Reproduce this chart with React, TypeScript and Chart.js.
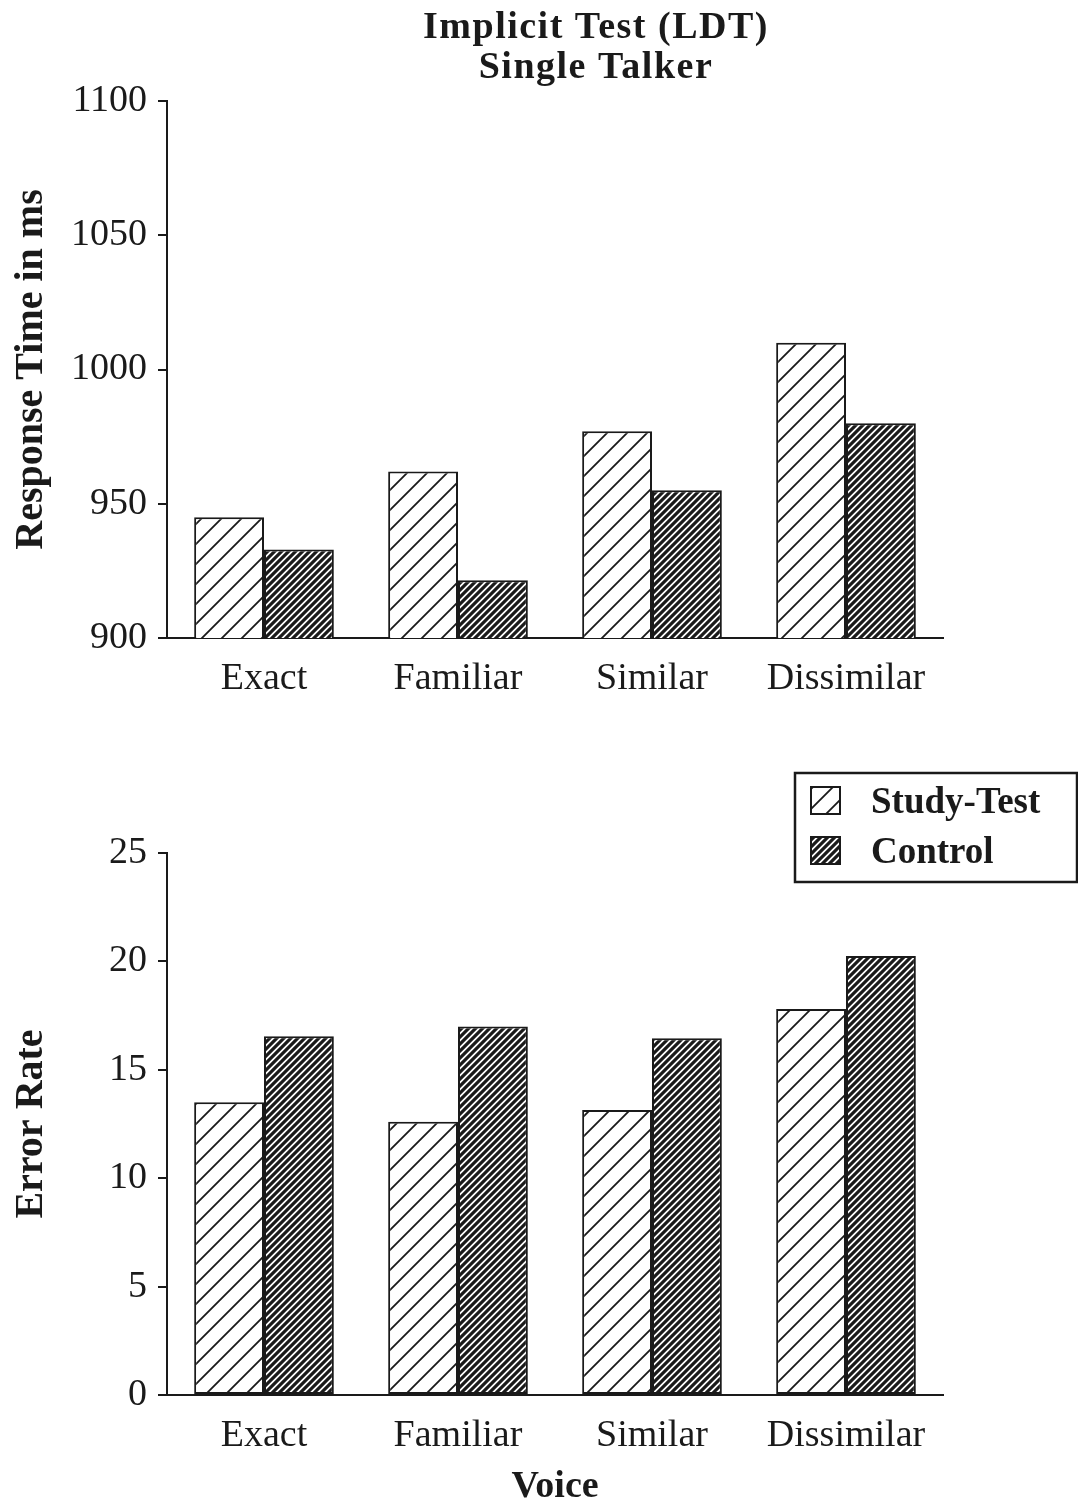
import React, { useEffect, useRef } from 'react';
import { Chart, registerables } from 'chart.js';

Chart.register(...registerables);

// ---- data ----
const categories = ['Exact', 'Familiar', 'Similar', 'Dissimilar'];
const seriesLabels = ['Study-Test', 'Control'];
const rtStudyTest = [945, 962, 977, 1010];
const rtControl = [933, 921.5, 955, 980];
const errStudyTest = [13.5, 12.6, 13.15, 17.8];
const errControl = [16.55, 17.0, 16.45, 20.25];
const rtMin = 900;
const rtMax = 1100;
const rtStep = 50;
const errMin = 0;
const errMax = 25;
const errStep = 5;
const titleLines = ['Implicit Test (LDT)', 'Single Talker'];
const rtAxisTitle = 'Response Time in ms';
const errAxisTitle = 'Error Rate';
const xAxisTitle = 'Voice';

const FONT = '"Liberation Serif", "Times New Roman", Times, serif';
const INK = '#1a1a1a';

function makePattern(size: number, lw: number): CanvasPattern {
  const c = document.createElement('canvas');
  c.width = size;
  c.height = size;
  const g = c.getContext('2d')!;
  g.fillStyle = '#ffffff';
  g.fillRect(0, 0, size, size);
  g.strokeStyle = INK;
  g.lineWidth = lw;
  g.beginPath();
  g.moveTo(-1, size + 1);
  g.lineTo(size + 1, -1);
  g.moveTo(-size / 2 - 1, size / 2 + 1);
  g.lineTo(size / 2 + 1, -size / 2 - 1);
  g.moveTo(size / 2 - 1, size * 1.5 + 1);
  g.lineTo(size * 1.5 + 1, size / 2 - 1);
  g.stroke();
  return g.createPattern(c, 'repeat')!;
}

const titlePlugin = {
  id: 'panelTitle',
  afterDraw(chart: any) {
    const ctx = chart.ctx as CanvasRenderingContext2D;
    ctx.save();
    ctx.fillStyle = INK;
    ctx.font = `bold 38px ${FONT}`;
    ctx.textAlign = 'center';
    ctx.textBaseline = 'alphabetic';
    try { (ctx as any).letterSpacing = '1.5px'; } catch (e) {}
    ctx.fillText(titleLines[0], 596, 38);
    ctx.fillText(titleLines[1], 596, 78);
    ctx.restore();
  },
};

const boxLegendPlugin = {
  id: 'boxLegend',
  afterDraw(chart: any) {
    const ctx = chart.ctx as CanvasRenderingContext2D;
    ctx.save();
    const x0 = 795;
    const y0 = 53;
    const w = 282;
    const h = 109;
    ctx.fillStyle = '#ffffff';
    ctx.fillRect(x0, y0, w, h);
    ctx.strokeStyle = INK;
    ctx.lineWidth = 2.5;
    ctx.strokeRect(x0, y0, w, h);
    chart.data.datasets.forEach((ds: any, i: number) => {
      const iy = y0 + 14 + i * 50;
      ctx.fillStyle = ds.backgroundColor;
      ctx.fillRect(811, iy, 29, 27);
      ctx.lineWidth = 2;
      ctx.strokeStyle = INK;
      ctx.strokeRect(811, iy, 29, 27);
      ctx.fillStyle = INK;
      ctx.font = `bold 37px ${FONT}`;
      ctx.textAlign = 'left';
      ctx.textBaseline = 'alphabetic';
      ctx.fillText(ds.label, 871, iy + 26);
    });
    ctx.restore();
  },
};

function buildConfig(
  studyVals: number[],
  controlVals: number[],
  sparse: CanvasPattern,
  dense: CanvasPattern,
  yMin: number,
  yMax: number,
  yStep: number,
  yTitle: string,
  xTitle: string | null,
  padTop: number,
  xHeight: number,
  plugins: any[]
): any {
  return {
    type: 'bar',
    data: {
      labels: categories,
      datasets: [
        {
          label: seriesLabels[0],
          data: studyVals,
          backgroundColor: sparse,
          borderColor: INK,
          borderWidth: 2,
          borderSkipped: false,
          categoryPercentage: 0.72,
          barPercentage: 1.0,
        },
        {
          label: seriesLabels[1],
          data: controlVals,
          backgroundColor: dense,
          borderColor: INK,
          borderWidth: 2,
          borderSkipped: false,
          categoryPercentage: 0.72,
          barPercentage: 1.0,
        },
      ],
    },
    options: {
      responsive: false,
      animation: false,
      devicePixelRatio: 1,
      layout: { padding: { left: 8, right: 135, top: padTop, bottom: 0 } },
      plugins: {
        legend: { display: false },
        title: { display: false },
        tooltip: { enabled: false },
      },
      scales: {
        x: {
          grid: { display: true, drawOnChartArea: false, drawTicks: false, color: INK },
          border: { display: true, color: INK, width: 2 },
          ticks: { color: INK, font: { family: FONT, size: 38 }, padding: 18 },
          title: {
            display: !!xTitle,
            text: xTitle || '',
            color: INK,
            font: { family: FONT, size: 38, weight: 'bold' },
            padding: 0,
          },
          afterFit: (s: any) => {
            s.height = xHeight;
          },
        },
        y: {
          min: yMin,
          max: yMax,
          ticks: {
            stepSize: yStep,
            color: INK,
            font: { family: FONT, size: 38 },
            padding: 11,
            callback: (v: any) => String(v),
          },
          grid: { drawOnChartArea: false, drawTicks: true, tickLength: 9, color: INK, lineWidth: 2 },
          border: { display: true, color: INK, width: 2 },
          title: {
            display: true,
            text: yTitle,
            color: INK,
            font: { family: FONT, size: 40, weight: 'bold' },
            padding: 0,
          },
          afterFit: (s: any) => {
            s.width = 159;
          },
        },
      },
    },
    plugins,
  };
}

export default function App() {
  const topRef = useRef<HTMLCanvasElement>(null);
  const botRef = useRef<HTMLCanvasElement>(null);

  useEffect(() => {
    const sparse = makePattern(20, 1.8);
    const dense = makePattern(7, 3.2);
    const top = new Chart(
      topRef.current!,
      buildConfig(rtStudyTest, rtControl, sparse, dense, rtMin, rtMax, rtStep, rtAxisTitle, null, 101, 82, [titlePlugin])
    );
    const bot = new Chart(
      botRef.current!,
      buildConfig(errStudyTest, errControl, sparse, dense, errMin, errMax, errStep, errAxisTitle, xAxisTitle, 133, 115, [boxLegendPlugin])
    );
    return () => {
      top.destroy();
      bot.destroy();
    };
  }, []);

  return (
    <div
      style={{
        position: 'absolute',
        left: 0,
        top: 0,
        width: 1078,
        height: 1505,
        background: '#ffffff',
        overflow: 'hidden',
      }}
    >
      <canvas
        ref={topRef}
        width={1078}
        height={720}
        style={{ position: 'absolute', left: 0, top: 0, width: 1078, height: 720 }}
      />
      <canvas
        ref={botRef}
        width={1078}
        height={790}
        style={{ position: 'absolute', left: 0, top: 720, width: 1078, height: 790 }}
      />
    </div>
  );
}
